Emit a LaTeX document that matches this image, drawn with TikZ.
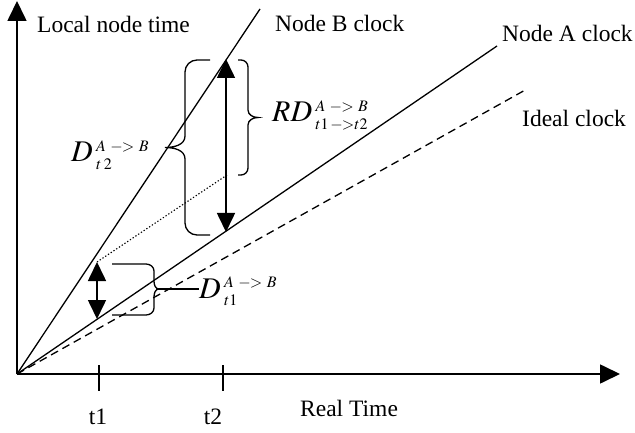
\documentclass[tikz,border=0pt]{standalone}
\usepackage{mathptmx}
\usepackage{fontspec}
\setmainfont{Liberation Serif}
\DeclareMathSizes{30}{30}{16}{11}
\usetikzlibrary{arrows.meta,positioning}
\tikzset{
  axis/.style={-{Triangle[length=20pt,width=19pt]},line width=1.7pt},
  clk/.style={line width=1.3pt},
  dbl/.style={{Triangle[length=19pt,width=18pt]}-{Triangle[length=19pt,width=18pt]},line width=1.6pt},
  brc/.style={line width=1.3pt},
  txt/.style={font=\fontsize{23.5}{27}\selectfont,inner sep=0pt,anchor=base west},
  mlbl/.style={font=\fontsize{30}{32}\selectfont,inner sep=0pt,anchor=base west}
}
\newcommand{\atob}{A\mkern5mu{-}\mkern-1mu{>}\mkern5mu B}

\begin{document}
\begin{tikzpicture}[x=1pt,y=-1pt]
\useasboundingbox (0,0) rectangle (635,433);
% axes
\coordinate (origin) at (17,374);
\coordinate (xend) at (620,374);
\coordinate (yend) at (17,1);
\draw[axis] (origin) -- (xend);
\draw[axis] (origin) -- (yend);
% clocks
\coordinate (bend) at (260,9);
\coordinate (aend) at (497,46);
\coordinate (iend) at (527,89);
\draw[clk] (origin) -- (bend);
\draw[clk] (origin) -- (aend);
\draw[clk,dash pattern=on 8pt off 5pt] (origin) -- (iend);
\node[txt] (ltime) at (37,33) {Local node time};
\node[txt] (bclk) at (275,32) {Node B clock};
\node[txt] (aclk) at (502,42) {Node A clock};
\node[txt] (iclk) at (522,127) {Ideal clock};
% ticks
\coordinate (tickone) at (99,365);
\coordinate (ticktwo) at (223,365);
\draw[clk] (tickone) -- ++(0,26);
\draw[clk] (ticktwo) -- ++(0,26);
\node[txt,anchor=base] (tone) at (98,424) {t1};
\node[txt,anchor=base] (ttwo) at (213,424) {t2};
\node[txt] (real) at (300,416) {Real Time};
% offsets
\coordinate (bone) at (97,262);
\coordinate (aone) at (97,319);
\coordinate (btwo) at (226,59);
\coordinate (atwo) at (226,232);
\coordinate (dotend) at (227,175);
\draw[dbl] (aone) -- (bone);
\draw[dbl] (atwo) -- (btwo);
\draw[line width=1.1pt,dash pattern=on 1.3pt off 2pt] (bone) -- (dotend);
% braces
\draw[brc] (210,60) -- (197,60) to[out=180,in=90] (185,72) -- (185,136)
  to[out=-90,in=0] (165,147.5) to[out=0,in=90] (185,159) -- (185,223)
  to[out=-90,in=180] (197,235) -- (210,235);
\draw[brc] (238,60) -- (241,60) to[out=0,in=90] (248,67) -- (248,110)
  to[out=-90,in=180] (258,117.5) to[out=180,in=90] (248,125) -- (248,168)
  to[out=-90,in=0] (241,175) -- (238,175);
\coordinate (tipone) at (159,289);
\draw[brc] (112,264) -- (146,264) to[out=0,in=90] (154,271) -- (154,281)
  to[out=-90,in=180] (tipone) to[out=180,in=90] (154,297) -- (154,308)
  to[out=-90,in=0] (146,315) -- (112,315);
% labels
\node[mlbl] (dtwo) at (71,162) {$D\mkern2mu{}_{t\mkern3mu 2}^{\atob}$};
\node[mlbl] (rd) at (272,122) {$RD\mkern2mu{}_{t1\mkern2mu{-}\mkern-1mu{>}t2}^{\atob}$};
\node[mlbl] (dtone) at (199,298) {$D\mkern2mu{}_{t1}^{\atob}$};
\draw[brc] (tipone) -- (tipone -| dtone.west);
\end{tikzpicture}
\end{document}
